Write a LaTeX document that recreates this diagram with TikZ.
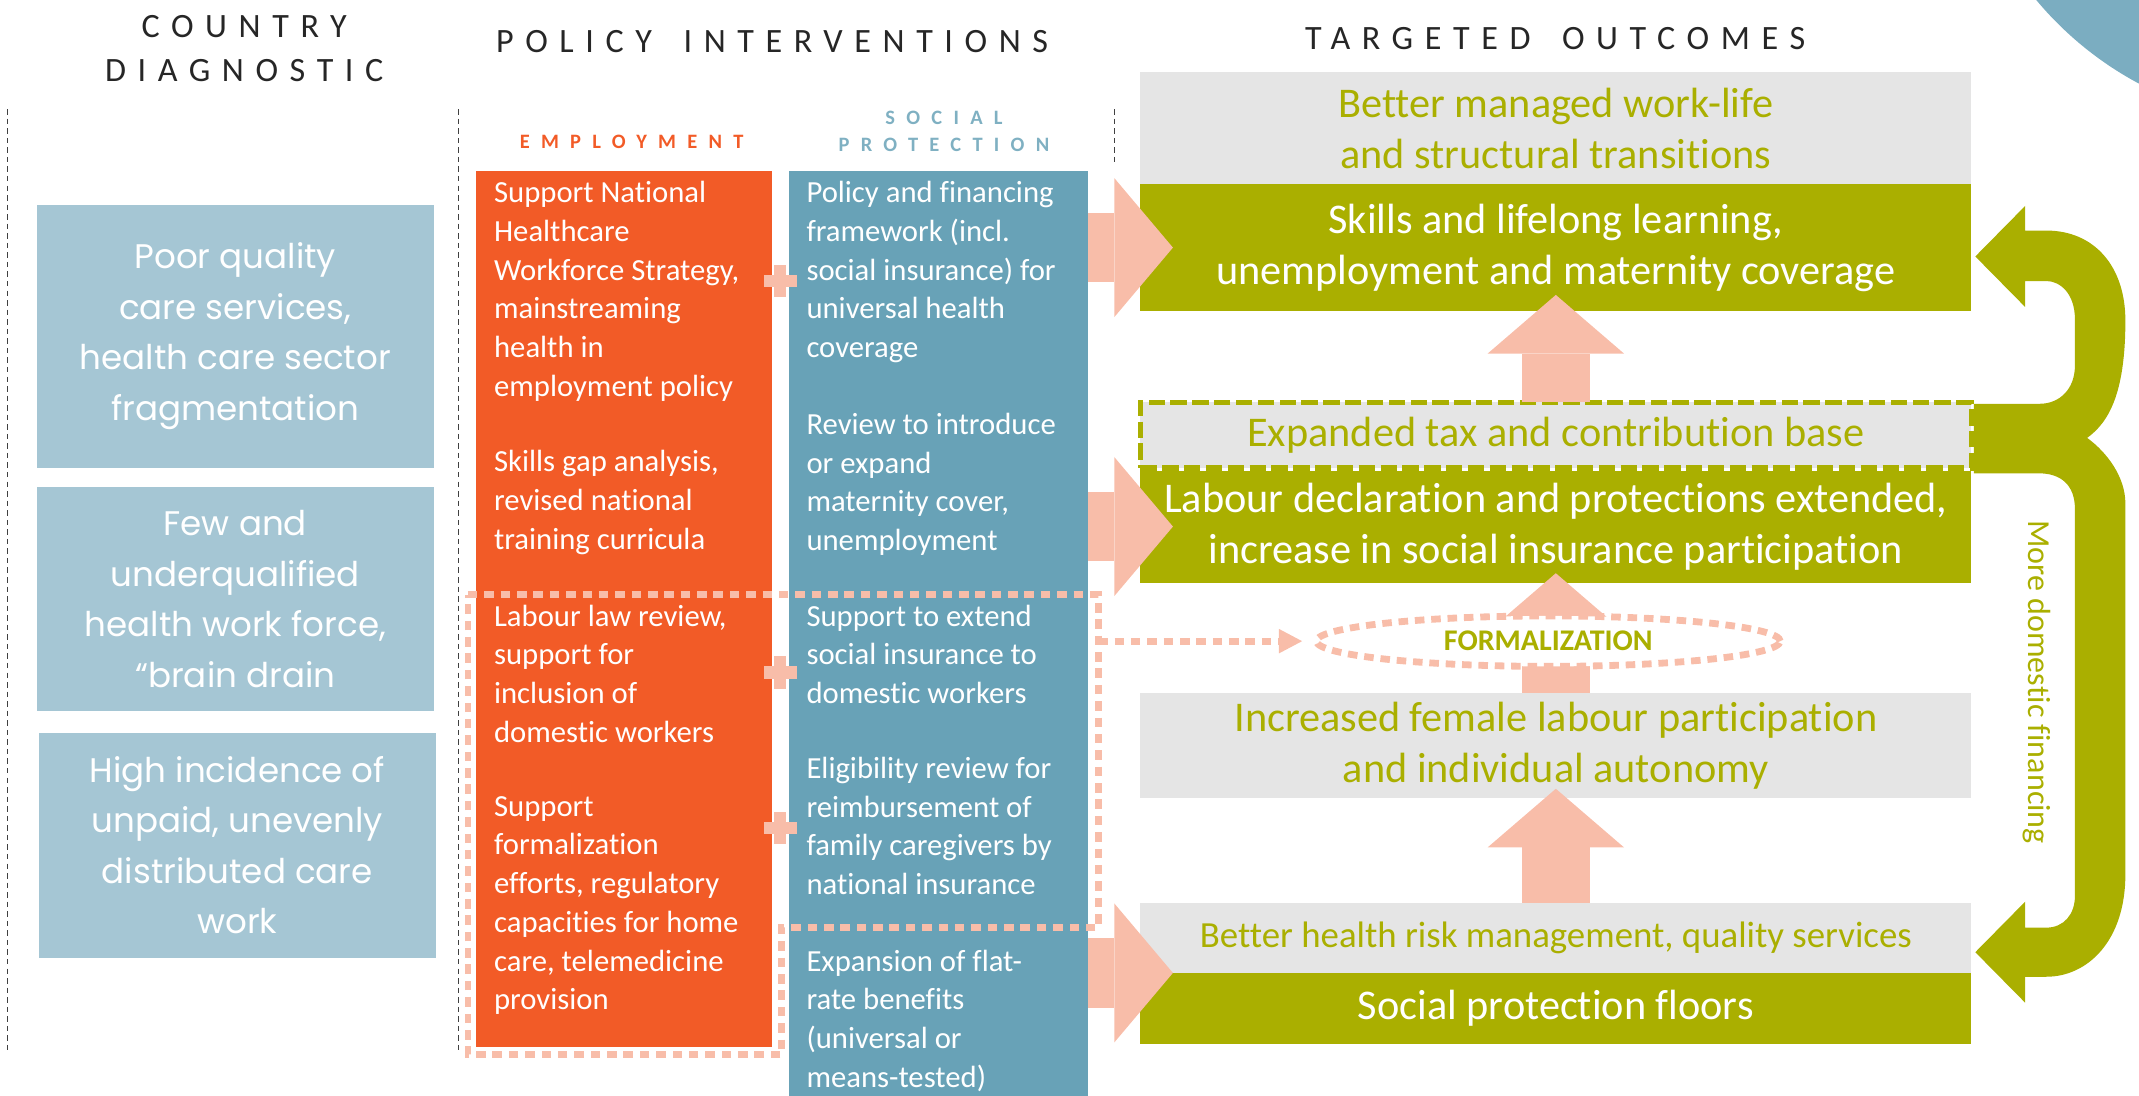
\documentclass[tikz,border=0pt]{standalone}
\usepackage{fontspec}
\setmainfont[Ligatures=NoCommon]{Carlito}
\newfontfamily\gothicfont{Poppins}
\newfontfamily\headfont[LetterSpace=34]{Carlito}
\newfontfamily\tagfont[LetterSpace=55]{Carlito}
\usetikzlibrary{arrows.meta,shapes.geometric}

\definecolor{emporange}{HTML}{F25B27}
\definecolor{protblue}{HTML}{68A2B7}
\definecolor{diagblue}{HTML}{A5C6D4}
\definecolor{peach}{HTML}{F8BDA9}
\definecolor{moss}{HTML}{AAAF00}
\definecolor{paleg}{HTML}{E5E5E5}
\definecolor{cornerblue}{HTML}{7BADC1}

\tikzset{
  colhead/.style={align=center, inner sep=0pt, text=black!85, font=\headfont\fontsize{25}{32}\selectfont},
  subhead/.style={align=center, inner sep=0pt, font=\tagfont\bfseries\fontsize{15}{19.6}\selectfont},
  divider/.style={black!75, line width=1pt, dash pattern=on 4pt off 3pt},
  diag/.style={fill=diagblue, text=white, minimum width=291pt, inner sep=0pt, align=center, font=\gothicfont\fontsize{25}{37}\selectfont},
  item/.style={anchor=north west, inner sep=0pt, align=left, text=white, font=\fontsize{22.5}{28.4}\selectfont, execute at begin node=\strut},
  outcome/.style={minimum width=609pt, inner sep=0pt, align=center, font=\fontsize{31}{37.5}\selectfont},
  lightbox/.style={outcome, fill=paleg, text=moss},
  greenbox/.style={outcome, fill=moss, text=white},
  block/.style={peach, line width=#1, -{Triangle[length=43pt, width=2*#1, line width=0pt]}},
  block/.default=51pt,
  dotline/.style={peach, line width=5pt, dash pattern=on 7pt off 5pt},
}

\begin{document}
\begin{tikzpicture}[x=1pt, y=-1pt]
\useasboundingbox (0,0) rectangle (1568,803);

% Corner disc
\begin{scope}
\clip (0,0) rectangle (1568,803);
\fill[cornerblue] (1687,-162) circle[radius=253pt];
\end{scope}

% Headings
\node[colhead] (diaghead) at (179,35.5) {COUNTRY\\DIAGNOSTIC};
\node[colhead] (polhead) at (566,30.5) {POLICY\hspace{9pt} INTERVENTIONS};
\node[colhead] (outhead) at (1140,28) {TARGETED\hspace{9pt} OUTCOMES};
\node[subhead, text=emporange] (emphead) at (463,104) {EMPLOYMENT};
\node[subhead, text=protblue!85] (sphead) at (692,96.5) {SOCIAL\\PROTECTION};

% Dashed dividers
\draw[divider] (5.5,80) -- (5.5,772);
\draw[divider] (336,80) -- (336,772);
\draw[divider] (817,80) -- (817,121);

% Country diagnostic
\node[diag, minimum height=193pt] (diag1) at (172.5,246.5) {Poor quality\\care services,\\health care sector\\fragmentation};
\node[diag, minimum height=164pt] (diag2) at (172.5,439) {Few and\\underqualified\\health work force,\\“brain drain};
\node[diag, minimum height=165pt] (diag3) at (174,619.5) {High incidence of\\unpaid, unevenly\\distributed care\\work};

% Policy columns
\node[fill=emporange, minimum width=217pt, minimum height=642pt, inner sep=0pt, anchor=north west] (emp) at (349,125) {};
\node[fill=protblue, minimum width=219pt, minimum height=678pt, inner sep=0pt, anchor=north west] (sp) at (578,125) {};

\node[item] (e1) at (362,132.8) {Support National\\Healthcare\\Workforce Strategy,\\mainstreaming\\health in\\employment policy};
\node[item] (e2) at (362,330.1) {Skills gap analysis,\\revised national\\training curricula};
\node[item] (e3) at (362,443.1) {Labour law review,\\support for\\inclusion of\\domestic workers};
\node[item] (e4) at (362,583.5) {Support\\formalization\\efforts, regulatory\\capacities for home\\care, telemedicine\\provision};

\node[item] (s1) at (591,132.8) {Policy and financing\\framework (incl.\\social insurance) for\\universal health\\coverage};
\node[item] (s2) at (591,302.6) {Review to introduce\\or expand\\maternity cover,\\unemployment};
\node[item] (s3) at (591,443.1) {Support to extend\\social insurance to\\domestic workers};
\node[item] (s4) at (591,554.8) {Eligibility review for\\reimbursement of\\family caregivers by\\national insurance};
\node[item] (s5) at (591,696.1) {Expansion of flat-\\rate benefits\\(universal or\\means-tested)};

% Plus signs
\foreach \y in {206,493,607} {
  \fill[peach] (560,\y-4.5) rectangle (584,\y+4.5);
  \fill[peach] (567.5,\y-12) rectangle (576.5,\y+12);
}

% Formal sector frame
\draw[dotline] (343,436) -- (805,436) -- (805,680) -- (573,680) -- (573,773) -- (343,773) -- cycle;
\coordinate (fork) at (805,470);

% Targeted outcomes
\node[lightbox, minimum height=82pt] (worklife) at (1140.5,94) {Better managed work-life\\and structural transitions};
\node[greenbox, minimum height=93pt] (skills) at (1140.5,181.5) {Skills and lifelong learning,\\unemployment and maternity coverage};
\node[greenbox, minimum height=82pt] (labour) at (1140.5,386) {Labour declaration and protections extended,\\increase in social insurance participation};
\node[lightbox, minimum height=48pt, draw=moss, line width=4pt, dash pattern=on 12pt off 4pt] (taxbase) at (1140.5,319) {Expanded tax and contribution base};
\node[lightbox, minimum height=77pt] (female) at (1140.5,546.5) {Increased female labour participation\\and individual autonomy};
\node[lightbox, minimum height=51pt, font=\fontsize{27}{32}\selectfont] (health) at (1140.5,687.5) {Better health risk management, quality services};
\node[greenbox, minimum height=52pt] (floors) at (1140.5,739) {Social protection floors};

% Block arrows
\draw[block] (sp.east |- skills.center) -- ([xshift=24pt]skills.west);
\draw[block] (sp.east |- labour.center) -- ([xshift=24pt]labour.west);
\draw[block] (sp.east |- health.south) -- ([xshift=24pt]health.south west);
\draw[block=50pt] ([yshift=-2pt]taxbase.north) -- ([yshift=12pt]skills.south);
\draw[block=50pt] (female.north) -- ([yshift=7pt]labour.south);
\draw[block=50pt] (health.north) -- ([yshift=7pt]female.south);

% Formalization
\node[ellipse, dotline, draw=peach, fill=white, minimum width=340pt, minimum height=37pt, inner sep=0pt, text=moss, font=\bfseries\fontsize{22}{26}\selectfont] (formal) at (1135,470) {FORMALIZATION};
\draw[dotline, -{Triangle[length=17pt, width=18pt, line width=0pt]}] (fork) -- ([xshift=-8pt]formal.west);

% Financing loop
\fill[moss] (1448,188) -- (1484.5,151) -- (1484.5,169) -- (1500,169)
  .. controls (1535,169) and (1558,195) .. (1558,235)
  .. controls (1558,290) and (1545,310) .. (1530,321)
  .. controls (1545,332) and (1558,350) .. (1558,369)
  -- (1558,641) .. controls (1558,690) and (1530,716) .. (1500,716)
  -- (1484.5,716) -- (1484.5,735) -- (1448,698) -- (1484.5,661) -- (1484.5,680) -- (1500,680)
  .. controls (1513,680) and (1521,670) .. (1521,657)
  -- (1521,373) .. controls (1521,355) and (1510,347) .. (1495,347)
  -- (1447,347) -- (1447,296) -- (1495,296)
  .. controls (1510,296) and (1521,285) .. (1521,268)
  -- (1521,234) .. controls (1521,215) and (1510,206) .. (1500,206)
  -- (1484.5,206) -- (1484.5,225) -- cycle;
\node[rotate=-90, text=moss, font=\fontsize{23.5}{28}\selectfont] (finance) at (1493,500) {More domestic financing};
\end{tikzpicture}
\end{document}
